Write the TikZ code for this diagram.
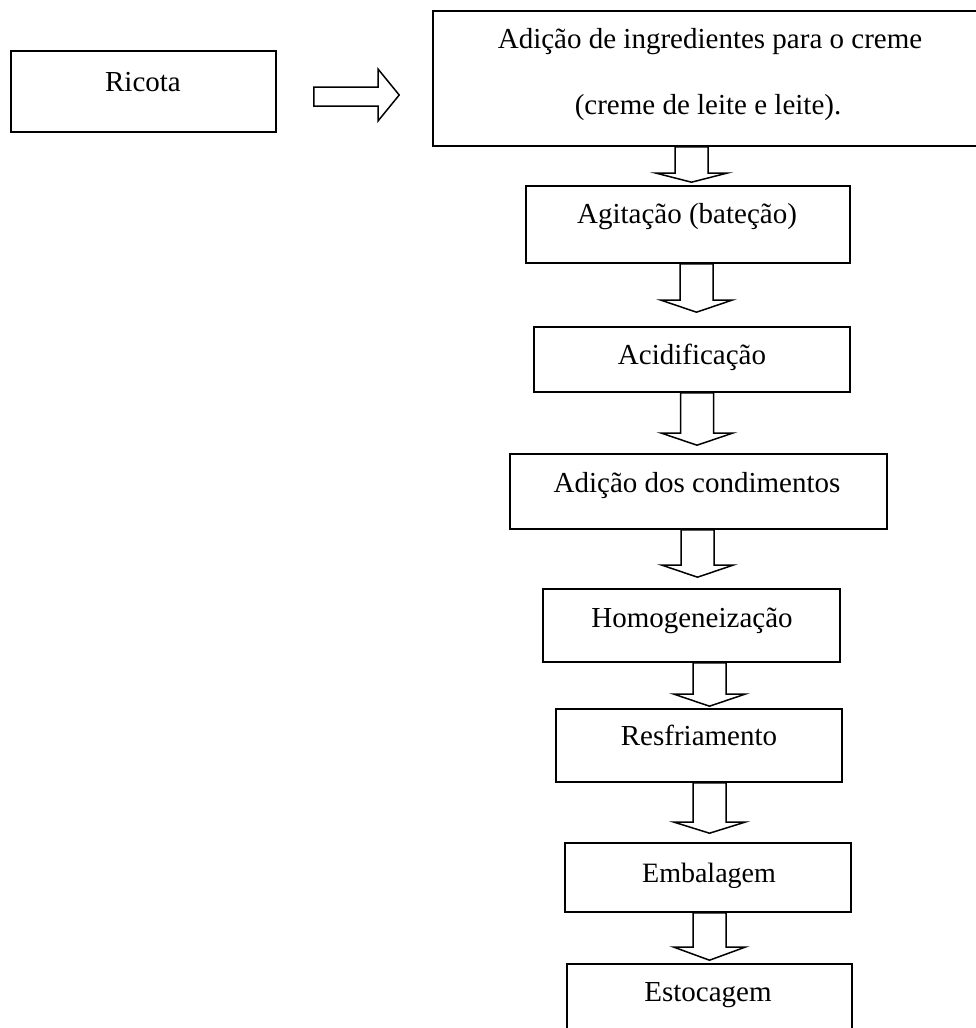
\documentclass[tikz,border=0pt]{standalone}
\usepackage{fontspec}
\setmainfont{Liberation Serif}
\usetikzlibrary{calc}
\tikzset{
  box/.style={draw, line width=1.6pt, inner sep=0pt, rectangle},
  lbl/.style={anchor=base, inner sep=0pt, font=\fontsize{29}{35}\selectfont},
  blk/.style={draw, line width=1.5pt, line join=miter},
}
% #1 from node, #2 to node, #3 centre x, #4 head base y, #5 gap above target
\newcommand\blkdown[5]{%
  \draw[blk] (#1.south -| {#3-16.5},0) -- ({#3-16.5},#4) -- ({#3-36},#4)
    -- ([yshift=#5pt]#2.north -| #3,0) -- ({#3+36},#4) -- ({#3+16.5},#4)
    -- (#1.south -| {#3+16.5},0) -- cycle;}
\begin{document}
\begin{tikzpicture}[x=1pt,y=-1pt]
\path[use as bounding box, clip] (0,0) rectangle (976,1028);
\fill[white] (0,0) rectangle (976,1028);

% boxes
\node[box, minimum width=265pt, minimum height=81pt] (ricota) at (143.5,91.5) {};
\node[box, minimum width=557pt, minimum height=135pt] (big) at (711.5,78.5) {};
\node[box, minimum width=324pt, minimum height=77pt] (agit) at (688,224.5) {};
\node[box, minimum width=316pt, minimum height=65pt] (acid) at (692,359.5) {};
\node[box, minimum width=377pt, minimum height=75pt] (cond) at (698.5,491.5) {};
\node[box, minimum width=297pt, minimum height=73pt] (homo) at (691.5,625.5) {};
\node[box, minimum width=286pt, minimum height=73pt] (resf) at (699,745.5) {};
\node[box, minimum width=286pt, minimum height=69pt] (emb) at (708,877.5) {};
\node[box, minimum width=285pt, minimum height=86pt] (esto) at (709.5,1007) {};

% labels
\node[lbl] (tricota) at (143,91) {Ricota};
\node[lbl] (tbig1) at (710,48) {Adição de ingredientes para o creme};
\node[lbl] (tbig2) at (708,114) {(creme de leite e leite).};
\node[lbl] (tagit) at (687,223) {Agitação (bateção)};
\node[lbl] (tacid) at (692,364) {Acidificação};
\node[lbl] (tcond) at (697,492) {Adição dos condimentos};
\node[lbl] (thomo) at (692,627) {Homogeneização};
\node[lbl] (tresf) at (699,745) {Resfriamento};
\node[lbl, font=\fontsize{28}{34}\selectfont] (temb) at (709,882) {Embalagem};
\node[lbl] (testo) at (708,1001) {Estocagem};

% right block arrow (Ricota -> big box)
\coordinate (ra) at ($(ricota.east)+(37,0)$);
\coordinate (rb) at ($(big.west |- ricota.east)+(-33,0)$);
\draw[blk] (ra |- 0,87) -- (378,87) -- (378,69) -- (rb |- 0,95) -- (378,121)
  -- (378,106) -- (ra |- 0,106) -- cycle;

% down block arrows
\blkdown{big}{agit}{691.5}{173}{3}
\blkdown{agit}{acid}{696.5}{300}{14}
\blkdown{acid}{cond}{697}{433}{8}
\blkdown{cond}{homo}{697.5}{565}{11}
\blkdown{homo}{resf}{709.5}{694}{2}
\blkdown{resf}{emb}{709.5}{822}{9}
\blkdown{emb}{esto}{709.5}{947}{3}
\end{tikzpicture}
\end{document}
